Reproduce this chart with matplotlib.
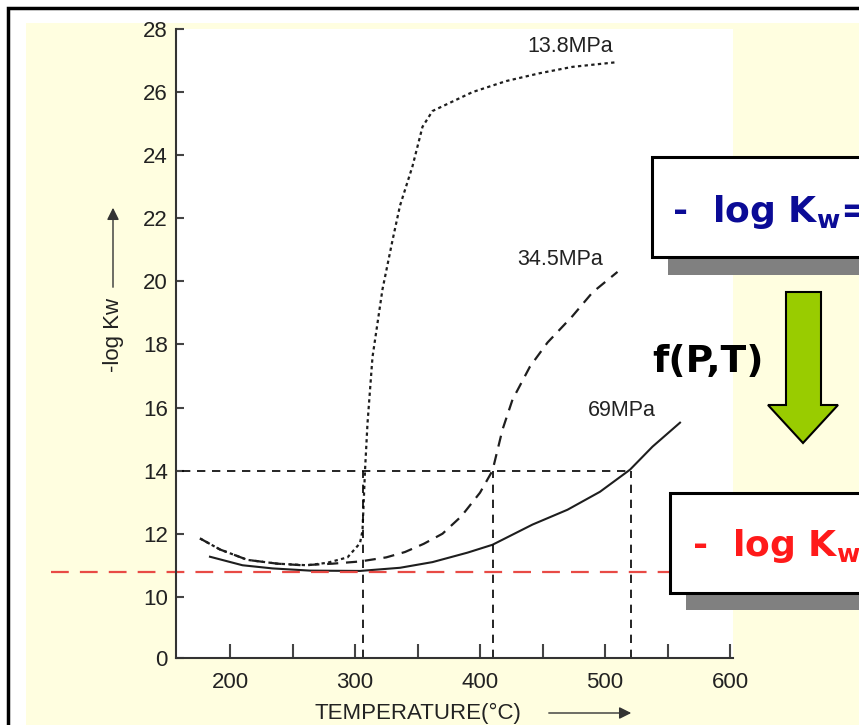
import matplotlib
matplotlib.use('Agg')
import matplotlib.pyplot as plt
from matplotlib.patches import Rectangle, Polygon

# -log Kw vs temperature for three pressures
t_138 = [176, 192, 214, 238, 262, 278, 294, 304, 306, 308, 310, 314, 322, 330,
         336, 346, 354, 362, 394, 421, 448, 474, 510]
k_138 = [11.85, 11.5, 11.17, 11.05, 11.0, 11.08, 11.25, 11.7, 12.1, 14.0, 15.5,
         17.6, 19.75, 21.3, 22.4, 23.65, 24.9, 25.4, 26.0, 26.35, 26.6, 26.8, 26.95]

t_345 = [176, 192, 214, 238, 258, 282, 304, 325, 340, 355, 370, 385, 400, 410,
         418, 426, 440, 454, 474, 490, 510]
k_345 = [11.85, 11.5, 11.17, 11.05, 11.0, 11.05, 11.12, 11.25, 11.42, 11.68, 12.0,
         12.55, 13.3, 14.0, 15.3, 16.25, 17.3, 18.06, 18.9, 19.65, 20.3]

t_69 = [184, 210, 234, 264, 304, 336, 362, 390, 410, 442, 470, 496, 520, 538, 560]
k_69 = [11.27, 11.0, 10.9, 10.83, 10.82, 10.92, 11.1, 11.4, 11.65, 12.29, 12.76,
        13.33, 14.03, 14.76, 15.52]

labels = ['13.8MPa', '34.5MPa', '69MPa']
label_pos = [(438, 27.45), (430, 20.7), (486, 15.9)]

ref_t = [306, 410, 521]   # temperatures where each curve hits 14
ref_k = 14.0
neutral_k = 10.8          # red line

x_ticks = [200, 250, 300, 350, 400, 450, 500, 550, 600]
x_ticklabels = ['200', '', '300', '', '400', '', '500', '', '600']
y_ticks = [10, 12, 14, 16, 18, 20, 22, 24, 26, 28]
y_break = 8.06            # axis is broken: bottom of axis is labelled 0

W, H = 859, 725
def fx(x):
    return x / W
def fy(y):
    return 1 - y / H

plt.rcParams['font.family'] = ['Liberation Sans', 'DejaVu Sans']
plt.rcParams['mathtext.fontset'] = 'dejavusans'

fig = plt.figure(figsize=(W / 100, H / 100), dpi=100, facecolor='white')

# slide background + frame
fig.patches.append(Rectangle((fx(26), 0), 1, fy(23), transform=fig.transFigure,
                             facecolor='#fffee0', edgecolor='none', zorder=-10))
fig.patches.append(Rectangle((fx(8), -0.1), 1.2, fy(8) + 0.1, transform=fig.transFigure,
                             facecolor='none', edgecolor='black', linewidth=2.5, zorder=-9))

ax = fig.add_axes([fx(176), fy(658), fx(733) - fx(176), fy(29) - fy(658)])
ax.set_facecolor('white')

ink = '#1e1e1e'
ax.plot(t_138, k_138, color=ink, lw=1.6, linestyle=(0, (1.5, 1.5)))
ax.plot(t_345, k_345, color=ink, lw=1.6, linestyle=(0, (5, 3.5)))
ax.plot(t_69, k_69, color=ink, lw=1.5, linestyle='-')

for lab, (tx, ty) in zip(labels, label_pos):
    ax.text(tx, ty, lab, fontsize=15.5, color='#222222', va='center', ha='left')

# reference lines at -log Kw = 14
ax.hlines(ref_k, 150, ref_t[-1], colors='black', lw=1.2, linestyles=(0, (5, 4)))
ax.vlines(ref_t, y_break, ref_k, colors='black', lw=1.2, linestyles=(0, (5, 4)))

# neutral water line
ax.plot([57, 552], [neutral_k, neutral_k], color='#e84a45', lw=1.6,
        linestyle=(0, (8, 5)), clip_on=False)

ax.set_xlim(156.8, 602.4)
ax.set_ylim(y_break, 28)
ax.set_xticks(x_ticks)
ax.set_xticklabels(x_ticklabels)
ax.set_yticks([y_break] + y_ticks)
ax.set_yticklabels(['0'] + [str(v) for v in y_ticks])
ax.tick_params(axis='x', direction='in', length=10, width=1.5, color='#444444',
               labelsize=16, labelcolor='#222222', pad=10)
ax.tick_params(axis='y', direction='in', length=6, width=1.5, color='#444444',
               labelsize=16, labelcolor='#222222', pad=6)
for s in ['top', 'right']:
    ax.spines[s].set_visible(False)
for s in ['left', 'bottom']:
    ax.spines[s].set_color('#333333')
    ax.spines[s].set_linewidth(1.5)

# axis titles with arrows
fig.text(fx(114), fy(335), '-log Kw', rotation=90, fontsize=16, color='#222222',
         ha='center', va='center')
ax.annotate('', xy=(fx(113), fy(205)), xytext=(fx(113), fy(290)),
            xycoords='figure fraction', textcoords='figure fraction',
            arrowprops=dict(arrowstyle='-|>', color='#333333', lw=1, mutation_scale=18))
fig.text(fx(418), fy(713), 'TEMPERATURE(°C)', fontsize=16, color='#222222',
         ha='center', va='center')
ax.annotate('', xy=(fx(634), fy(713)), xytext=(fx(546), fy(713)),
            xycoords='figure fraction', textcoords='figure fraction',
            arrowprops=dict(arrowstyle='-|>', color='#333333', lw=1, mutation_scale=18))

# slide boxes (they run off the right edge, as in the slide)
def box(x0, y0, y1, dx, dy):
    fig.patches.append(Rectangle((fx(x0 + dx), fy(y1 + dy)), 1, fy(y1) - fy(y1 + dy),
                                 transform=fig.transFigure, facecolor='#808080',
                                 edgecolor='none', zorder=5))
    fig.patches.append(Rectangle((fx(x0), fy(y1)), 1, fy(y0) - fy(y1),
                                 transform=fig.transFigure, facecolor='white',
                                 edgecolor='black', linewidth=2.2, zorder=6))

box_font = ['DejaVu Sans']
box(652, 157, 257, 16, 18)
fig.text(fx(672), fy(212), r'-  log K$_{\mathbf{w}}$=', fontsize=26, fontweight='bold',
         family=box_font, color='#0b0b96', ha='left', va='center', zorder=7)
box(670, 493, 593, 16, 17)
fig.text(fx(692), fy(546), r'-  log K$_{\mathbf{w}}$=', fontsize=26, fontweight='bold',
         family=box_font, color='#ff1a1a', ha='left', va='center', zorder=7)

# green arrow
arrow_pts = [(786, 292), (821, 292), (821, 405), (838, 405), (803, 443), (768, 405), (786, 405)]
fig.patches.append(Polygon([(fx(a), fy(b)) for a, b in arrow_pts], closed=True,
                           transform=fig.transFigure, facecolor='#99cc00',
                           edgecolor='black', linewidth=1.5, zorder=6))
fig.text(fx(708), fy(362), 'f(P,T)', fontsize=27, fontweight='bold', family=box_font,
         color='black', ha='center', va='center', zorder=7)

fig.savefig('out.png', dpi=100, facecolor=fig.get_facecolor())
